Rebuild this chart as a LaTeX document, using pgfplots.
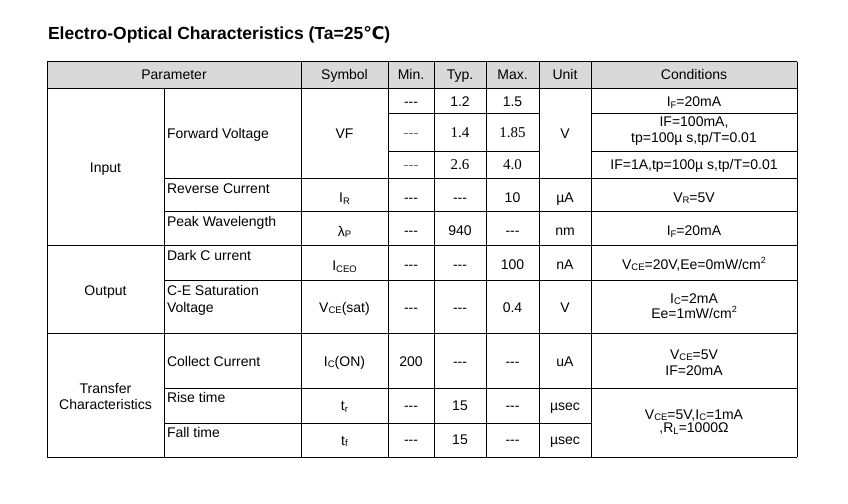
\documentclass[border=0pt]{standalone}
\usepackage{pgfplots}
\pgfplotsset{compat=1.18}
\usepackage{fontspec}
\newfontfamily\arial{Liberation Sans}
\newfontfamily\tnr{Liberation Serif}
\newfontfamily\dejavu{DejaVu Sans}
\definecolor{headgray}{HTML}{D9D9D9}
\newcommand\sub[1]{\raisebox{-1.6bp}{\fontsize{9.5bp}{10bp}\selectfont #1}}
\newcommand\supr[1]{\raisebox{5.5bp}{\fontsize{9bp}{9bp}\selectfont #1}}
\newcommand\srf[1]{{\tnr\fontsize{15bp}{16bp}\selectfont #1}}
\begin{document}
\begin{tikzpicture}
\begin{axis}[width=848bp, height=504bp, scale only axis,
  xmin=0, xmax=848, ymin=0, ymax=504, y dir=reverse,
  hide axis, clip=false]
\path (axis cs:0,0) rectangle (axis cs:848,504);
\tikzset{every node/.style={inner sep=0pt, outer sep=0pt, font=\arial\fontsize{14bp}{16bp}\selectfont},
  c/.style={anchor=base}, l/.style={anchor=base west}}
% header fill
\fill[headgray] (axis cs:47,62) rectangle (axis cs:797,88.5);
\begin{scope}[line width=1bp, black]
% full-width horizontal lines
\draw (axis cs:47,62) -- (axis cs:797,62);
\draw (axis cs:47,88.5) -- (axis cs:797,88.5);
\draw (axis cs:47,245) -- (axis cs:797,245);
\draw (axis cs:47,333.5) -- (axis cs:797,333.5);
\draw (axis cs:47,457) -- (axis cs:797,457);
% partial horizontal lines
\draw (axis cs:388,114) -- (axis cs:539,114);
\draw (axis cs:591,114) -- (axis cs:797,114);
\draw (axis cs:388,151) -- (axis cs:539,151);
\draw (axis cs:591,151) -- (axis cs:797,151);
\draw (axis cs:164,178.5) -- (axis cs:797,178.5);
\draw (axis cs:164,211.5) -- (axis cs:797,211.5);
\draw (axis cs:164,280) -- (axis cs:797,280);
\draw (axis cs:164,388) -- (axis cs:797,388);
\draw (axis cs:164,423) -- (axis cs:591,423);
% vertical lines
\draw (axis cs:47,62) -- (axis cs:47,457);
\draw (axis cs:164,88.5) -- (axis cs:164,457);
\draw (axis cs:301,62) -- (axis cs:301,457);
\draw (axis cs:388,62) -- (axis cs:388,457);
\draw (axis cs:434,62) -- (axis cs:434,457);
\draw (axis cs:486,62) -- (axis cs:486,457);
\draw (axis cs:539,62) -- (axis cs:539,457);
\draw (axis cs:591,62) -- (axis cs:591,457);
\draw (axis cs:797,62) -- (axis cs:797,457);
\end{scope}
% title
\node[anchor=base west, font=\arial\bfseries\fontsize{17.5bp}{20bp}\selectfont] at (axis cs:48,39.3)
  {Electro-Optical Characteristics (Ta=25{\dejavu\bfseries ℃})};
% header
\node[c] at (axis cs:174,80) {Parameter};
\node[c] at (axis cs:344.5,80) {Symbol};
\node[c] at (axis cs:411,80) {Min.};
\node[c] at (axis cs:460,80) {Typ.};
\node[c] at (axis cs:512.5,80) {Max.};
\node[c] at (axis cs:565,80) {Unit};
\node[c] at (axis cs:694,80) {Conditions};
% group column
\node[c] at (axis cs:105.5,172.5) {Input};
\node[c] at (axis cs:105.5,295) {Output};
\node[c] at (axis cs:105.5,393.5) {Transfer};
\node[c] at (axis cs:105.5,409) {Characteristics};
% Forward voltage block
\node[l] at (axis cs:167,138.8) {Forward Voltage};
\node[c] at (axis cs:344.5,138.8) {VF};
\node[c] at (axis cs:565,138.8) {V};
% row A
\node[c] at (axis cs:411,106.5) {---};
\node[c] at (axis cs:460,106.5) {1.2};
\node[c] at (axis cs:512.5,106.5) {1.5};
\node[c] at (axis cs:694,106.5) {I\sub{F}=20mA};
% row B
\node[c, text=black!55] at (axis cs:411,137.5) {\srf{---}};
\node[c] at (axis cs:460,137.5) {\srf{1.4}};
\node[c] at (axis cs:512.5,137.5) {\srf{1.85}};
\node[c] at (axis cs:694,126.5) {IF=100mA,};
\node[c] at (axis cs:694,142) {tp=100µ s,tp/T=0.01};
% row C
\node[c, text=black!55] at (axis cs:411,169) {\srf{---}};
\node[c] at (axis cs:460,169) {\srf{2.6}};
\node[c] at (axis cs:512.5,169) {\srf{4.0}};
\node[c] at (axis cs:694,169) {IF=1A,tp=100µ s,tp/T=0.01};
% row D
\node[l] at (axis cs:167,193) {Reverse Current};
\node[c] at (axis cs:344.5,202.5) {I\sub{R}};
\node[c] at (axis cs:411,202) {---};
\node[c] at (axis cs:460,202) {---};
\node[c] at (axis cs:512.5,202) {10};
\node[c] at (axis cs:565,202) {µA};
\node[c] at (axis cs:694,202) {V\sub{R}=5V};
% row E
\node[l] at (axis cs:167,226.5) {Peak Wavelength};
\node[c] at (axis cs:344.5,236) {λ\sub{P}};
\node[c] at (axis cs:411,235.5) {---};
\node[c] at (axis cs:460,235.5) {940};
\node[c] at (axis cs:512.5,235.5) {---};
\node[c] at (axis cs:565,235.5) {nm};
\node[c] at (axis cs:694,235.5) {I\sub{F}=20mA};
% row F
\node[l] at (axis cs:167,260.5) {Dark C urrent};
\node[c] at (axis cs:344.5,270.5) {I\sub{CEO}};
\node[c] at (axis cs:411,269) {---};
\node[c] at (axis cs:460,269) {---};
\node[c] at (axis cs:512.5,269) {100};
\node[c] at (axis cs:565,269) {nA};
\node[c] at (axis cs:694,269) {V\sub{CE}=20V,Ee=0mW/cm\supr{2}};
% row G
\node[l] at (axis cs:167,295) {C-E Saturation};
\node[l] at (axis cs:167,312) {Voltage};
\node[c] at (axis cs:344.5,312) {V\sub{CE}(sat)};
\node[c] at (axis cs:411,312.5) {---};
\node[c] at (axis cs:460,312.5) {---};
\node[c] at (axis cs:512.5,312.5) {0.4};
\node[c] at (axis cs:565,312.5) {V};
\node[c] at (axis cs:694,303.3) {I\sub{C}=2mA};
\node[c] at (axis cs:694,318) {Ee=1mW/cm\supr{2}};
% row H
\node[l] at (axis cs:167,366) {Collect Current};
\node[c] at (axis cs:344.5,366) {I\sub{C}(ON)};
\node[c] at (axis cs:411,366.5) {200};
\node[c] at (axis cs:460,366.5) {---};
\node[c] at (axis cs:512.5,366.5) {---};
\node[c] at (axis cs:565,366.5) {uA};
\node[c] at (axis cs:694,359.3) {V\sub{CE}=5V};
\node[c] at (axis cs:694,375) {IF=20mA};
% row I
\node[l] at (axis cs:167,402.7) {Rise time};
\node[c] at (axis cs:344.5,410.5) {t\sub{r}};
\node[c] at (axis cs:411,410) {---};
\node[c] at (axis cs:460,410) {15};
\node[c] at (axis cs:512.5,410) {---};
\node[c] at (axis cs:565,410) {µsec};
% row J
\node[l] at (axis cs:167,437.7) {Fall time};
\node[c] at (axis cs:344.5,445) {t\sub{f}};
\node[c] at (axis cs:411,444) {---};
\node[c] at (axis cs:460,444) {15};
\node[c] at (axis cs:512.5,444) {---};
\node[c] at (axis cs:565,444) {µsec};
% merged conditions
\node[c] at (axis cs:694,419.3) {V\sub{CE}=5V,I\sub{C}=1mA};
\node[c] at (axis cs:694,432.7) {,R\sub{L}=1000Ω};
\end{axis}
\end{tikzpicture}
\end{document}
